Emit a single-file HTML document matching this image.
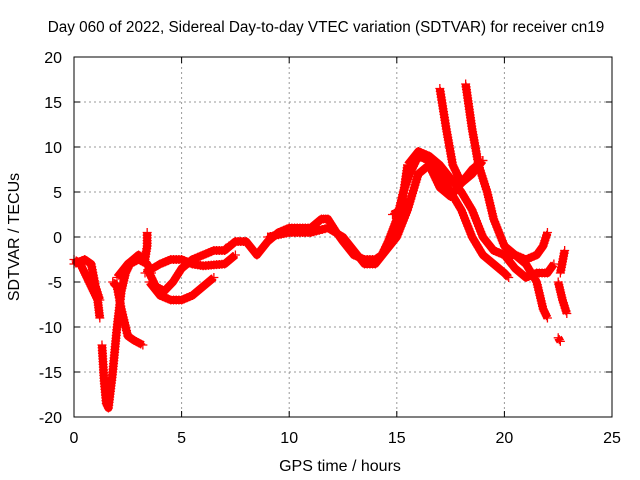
<!DOCTYPE html>
<html><head><meta charset="utf-8"><style>
body{margin:0;background:#fff}
svg{display:block;font-family:"Liberation Sans",sans-serif;font-size:16px}
</style></head><body>
<svg id="c" width="640" height="480">
<text x="326" y="32" text-anchor="middle" font-size="15.3">Day 060 of 2022, Sidereal Day-to-day VTEC variation (SDTVAR) for receiver cn19</text>
<text x="340" y="471" text-anchor="middle">GPS time / hours</text>
<text transform="translate(19,237) rotate(-90)" text-anchor="middle">SDTVAR / TECUs</text>
<g id="grid"></g><g id="marks"></g>
<rect x="74" y="57" width="538" height="360" fill="none" stroke="#000"/>
</svg>
<script>
const xTicks=[0,5,10,15,20,25];
const yTicks=[-20,-15,-10,-5,0,5,10,15,20];
const s1=[[0,-2.5],[0.3,-3],[0.5,-4],[0.7,-5],[0.9,-6],[1.1,-7],[1.2,-9]];
const s2=[[0,-3],[0.5,-2.5],[0.8,-3],[1.0,-5.5],[1.2,-7]];
const s3=[[1.3,-12],[1.4,-16],[1.5,-18.5],[1.6,-19],[1.8,-15],[2.0,-10],[2.2,-6],[2.4,-4],[2.6,-3],[3.0,-2.5],[3.4,-3],[3.6,-4]];
const s4=[[1.8,-5],[2.0,-5.5],[2.2,-8],[2.5,-11],[2.8,-11.5],[3.2,-12]];
const s5=[[2.0,-4.5],[2.5,-3],[3.0,-2],[3.3,-2.5],[3.4,-1],[3.4,0.5]];
const s6=[[3.5,-4],[3.8,-5.5],[4.2,-6],[4.6,-5],[5,-3.5],[5.5,-2.5],[6,-2],[6.5,-1.5],[7,-1.5],[7.2,-1]];
const s7=[[3.5,-5],[4,-6.5],[4.5,-7],[5,-7],[5.5,-6.5],[6,-5.5],[6.5,-4.5]];
const s8=[[3.3,-4],[4,-3],[4.5,-2.5],[5,-2.5],[5.5,-3],[6,-3.2],[7,-3],[7.5,-2]];
const s9=[[7,-1.5],[7.5,-0.5],[8,-0.5],[8.5,-2],[9,-0.5],[9.5,0.5],[10,1],[10.5,1],[11,1],[11.5,2],[11.8,2],[12.2,0.5],[12.5,-0.5],[13,-2],[13.5,-2.5],[14,-2.5],[14.3,-2],[14.6,-0.5],[15,2],[15.3,5],[15.6,7],[16,9],[16.5,8.5],[17,7],[17.5,5],[18,3],[18.5,0],[19,-2],[19.5,-3],[20,-4],[20.2,-4.5]];
const s10=[[9,0],[10,0.5],[11,0.5],[11.8,1],[12.5,0],[13,-1.5],[13.5,-3],[14,-3],[14.5,-1.5],[15,0],[15.5,3],[16,7],[16.5,8],[17,5.5],[17.5,4.5],[18,6],[18.5,7.5],[19,8.5]];
const s11=[[15.5,8],[16,9.5],[16.5,9],[17,8],[17.5,6.5],[18,5],[18.5,3],[19,0],[19.5,-1.5],[20,-2],[20.5,-2],[21,-2.5],[21.5,-2],[21.8,-1],[22,0.5]];
const s12=[[17,16.5],[17.3,12],[17.6,8],[18,6],[18.5,7],[19,8.5]];
const s13=[[18.2,17],[18.5,12],[18.8,8],[19.2,5],[19.5,2],[20,-1],[20.5,-2],[21,-3],[21.5,-5],[21.8,-8],[22,-9]];
const s14=[[20,-2],[20.5,-3.5],[21,-4.5],[21.5,-4],[22,-4],[22.3,-3]];
const s15=[[22.5,-5],[22.7,-7],[22.9,-8.5]];
const s16=[[22.6,-4],[22.8,-1.5]];
const s17=[[22.5,-11.2],[22.6,-11.6]];
const s18=[[14.8,2.5],[15.2,3],[15.5,8]];
const series=[s1,s2,s3,s4,s5,s6,s7,s8,s9,s10,s11,s12,s13,s14,s15,s16,s17,s18];
const X=v=>74+v*538/25, Y=v=>237-v*9;
const NS="http://www.w3.org/2000/svg";
const grid=document.getElementById('grid'), marks=document.getElementById('marks');
function el(t,a,p){const e=document.createElementNS(NS,t);for(const k in a)e.setAttribute(k,a[k]);p.appendChild(e);return e;}
xTicks.forEach(t=>{const x=X(t);
 if(t>0&&t<25){const g=el('line',{x1:x,x2:x,y1:57,y2:417,stroke:'#999','stroke-dasharray':'2,3'},grid);
 
 }
 el('line',{x1:x,x2:x,y1:417,y2:411,stroke:'#000'},grid);el('line',{x1:x,x2:x,y1:57,y2:63,stroke:'#000'},grid);
 const l=el('text',{x:x,y:443,'text-anchor':'middle'},grid);l.textContent=t;
 
 });
yTicks.forEach(t=>{const y=Y(t);
 if(t>-20&&t<20){const g=el('line',{x1:74,x2:612,y1:y,y2:y,stroke:'#999','stroke-dasharray':'2,3'},grid);
 
 }
 el('line',{x1:74,x2:80,y1:y,y2:y,stroke:'#000'},grid);el('line',{x1:606,x2:612,y1:y,y2:y,stroke:'#000'},grid);
 const l=el('text',{x:62,y:y+6,'text-anchor':'end'},grid);l.textContent=t;
 
 });
series.forEach((s,i)=>{
 const g=el('g',{},marks);
 
 
 el('polyline',{points:s.map(p=>X(p[0])+','+Y(p[1])).join(' '),fill:'none',stroke:'#f00','stroke-width':8,'stroke-linejoin':'round'},g);
 let d='';
 for(let k=0;k<s.length;k++){
  const px=X(s[k][0]),py=Y(s[k][1]);
  if(k<s.length-1){const qx=X(s[k+1][0]),qy=Y(s[k+1][1]);const n=Math.max(1,Math.ceil(Math.hypot(qx-px,qy-py)/3));
   for(let j=0;j<n;j++){const x=px+(qx-px)*j/n,y=py+(qy-py)*j/n;d+=`M${x-4.5},${y}h9M${x},${y-4.5}v9`;}}
  else d+=`M${px-4.5},${py}h9M${px},${py-4.5}v9`;
 }
 el('path',{d:d,stroke:'#f00','stroke-width':1.3,fill:'none'},g);
});
</script>
</body></html>
